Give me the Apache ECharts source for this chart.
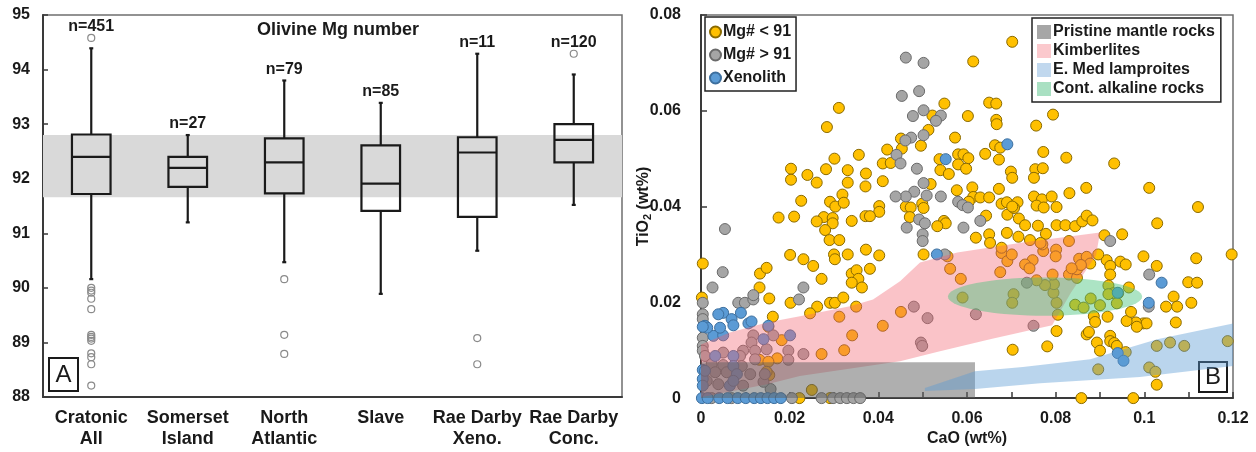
<!DOCTYPE html>
<html>
<head>
<meta charset="utf-8">
<script src="https://cdn.jsdelivr.net/npm/echarts@6/dist/echarts.min.js"></script>
<style>
  html, body { margin: 0; padding: 0; background: #fff; }
  #chart { width: 1256px; height: 452px; }
</style>
</head>
<body>
<div id="chart"></div>
<script>
// ---------- Panel A: olivine Mg number box plots ----------
const categories = ['Cratonic\nAll', 'Somerset\nIsland', 'North\nAtlantic', 'Slave', 'Rae Darby\nXeno.', 'Rae Darby\nConc.'];
const counts = [451, 27, 79, 85, 11, 120];
const whiskerLow = [90.16, 91.20, 90.47, 89.89, 90.68, 91.52];
const q1 = [91.72, 91.85, 91.73, 91.41, 91.30, 92.30];
const median = [92.40, 92.20, 92.30, 91.91, 92.48, 92.71];
const q3 = [92.81, 92.40, 92.74, 92.61, 92.76, 93.00];
const whiskerHigh = [94.39, 92.80, 93.80, 93.39, 94.29, 93.91];
const outliersCratonic = [94.58, 90.00, 89.95, 89.91, 89.80, 89.61, 89.14, 89.10, 89.07, 89.03, 88.80, 88.73, 88.60, 88.21];
const outliersNorthAtlantic = [90.16, 89.14, 88.79];
const outliersRaeXeno = [89.08, 88.60];
const outliersRaeConc = [94.29];
const mantleBand = [91.66, 92.80];
const mgTicks = [88, 89, 90, 91, 92, 93, 94, 95];

// ---------- Panel B: TiO2 vs CaO in olivine ----------
const mgBelow91 = [
  [0.0203,0.0479],[0.0203,0.0456],[0.0175,0.0377],[0.0210,0.0379],
  [0.0702,0.0744],[0.0614,0.0703],[0.0311,0.0606],[0.0284,0.0566],[0.0549,0.0615],[0.0650,0.0617],[0.0666,0.0615],
  [0.0602,0.0589],[0.0522,0.0590],[0.0666,0.0581],[0.0667,0.0572],[0.0513,0.0560],[0.0573,0.0544],[0.0451,0.0542],
  [0.0496,0.0527],[0.0663,0.0528],[0.0675,0.0523],[0.0420,0.0519],[0.0453,0.0521],[0.0356,0.0508],[0.0301,0.0500],
  [0.0410,0.0490],[0.0428,0.0491],[0.0538,0.0499],[0.0580,0.0509],[0.0592,0.0509],[0.0603,0.0501],[0.0641,0.0510],
  [0.0672,0.0498],[0.0580,0.0488],[0.0598,0.0479],[0.0540,0.0476],[0.0559,0.0468],[0.0699,0.0473],[0.0702,0.0460],
  [0.0240,0.0466],[0.0282,0.0478],[0.0331,0.0476],[0.0372,0.0469],[0.0261,0.0450],[0.0331,0.0450],[0.0371,0.0442],
  [0.0410,0.0453],[0.0518,0.0447],[0.0577,0.0434],[0.0612,0.0440],[0.0672,0.0437],[0.0319,0.0425],[0.0226,0.0412],
  [0.0291,0.0410],[0.0303,0.0400],[0.0322,0.0408],[0.0614,0.0420],[0.0630,0.0419],[0.0650,0.0419],[0.0604,0.0410],
  [0.0499,0.0406],[0.0502,0.0397],[0.0462,0.0400],[0.0473,0.0398],[0.0402,0.0401],[0.0402,0.0389],[0.0678,0.0406],
  [0.0690,0.0409],[0.0714,0.0409],[0.0277,0.0378],[0.0297,0.0376],[0.0261,0.0369],[0.0297,0.0365],[0.0340,0.0370],
  [0.0371,0.0380],[0.0381,0.0380],[0.0471,0.0378],[0.0643,0.0381],[0.0691,0.0383],[0.0706,0.0397],[0.0548,0.0370],
  [0.0552,0.0365],[0.0533,0.0359],
  [0.0794,0.0592],[0.0756,0.0569],[0.0772,0.0514],[0.0824,0.0502],[0.0932,0.0490],[0.0754,0.0478],[0.0771,0.0480],
  [0.0751,0.0460],[0.0831,0.0428],[0.0869,0.0439],[0.1011,0.0439],[0.1121,0.0399],[0.0751,0.0421],[0.0769,0.0415],
  [0.0791,0.0421],[0.0702,0.0400],[0.0757,0.0402],[0.0773,0.0398],[0.0802,0.0399],[0.0717,0.0375],[0.0731,0.0361],
  [0.0760,0.0360],[0.0802,0.0361],[0.0822,0.0361],[0.0844,0.0359],[0.0860,0.0369],[0.0870,0.0381],[0.0883,0.0371],
  [0.1029,0.0365],
  [0.0650,0.0342],[0.0652,0.0324],[0.0620,0.0335],[0.0690,0.0345],[0.0716,0.0337],[0.0742,0.0330],[0.0778,0.0343],
  [0.0910,0.0340],[0.0950,0.0342],[0.1197,0.0300],[0.1117,0.0292],[0.0998,0.0296],[0.1028,0.0276],[0.1099,0.0242],
  [0.1119,0.0241],[0.1066,0.0212],[0.1049,0.0191],[0.1074,0.0191],[0.1106,0.0199],[0.1071,0.0158],[0.0998,0.0156],
  [0.1005,0.0156],[0.0981,0.0158],[0.0983,0.0149],[0.0960,0.0161],[0.0970,0.0180],[0.0946,0.0285],[0.0958,0.0279],
  [0.0915,0.0288],[0.0923,0.0276],[0.0923,0.0258],[0.0896,0.0300],[0.0919,0.0235],[0.0930,0.0219],[0.0941,0.0219],
  [0.0965,0.0231],[0.0879,0.0208],[0.0900,0.0194],[0.0938,0.0198],[0.0919,0.0217],[0.0844,0.0195],[0.0863,0.0189],
  [0.0802,0.0199],[0.0805,0.0174],[0.0795,0.0220],[0.0796,0.0238],[0.0776,0.0236],[0.0757,0.0246],[0.0705,0.0217],
  [0.0702,0.0199],[0.0590,0.0210],[0.0675,0.0263],[0.0793,0.0258],[0.0830,0.0258],[0.0848,0.0251],[0.0848,0.0269],
  [0.0853,0.0291],[0.0870,0.0295],[0.0878,0.0281],[0.0857,0.0278],[0.0836,0.0271],[0.0830,0.0328],[0.0801,0.0310],
  [0.0800,0.0296],[0.0772,0.0307],[0.0770,0.0321],[0.0766,0.0324],[0.0748,0.0288],[0.0731,0.0279],[0.0741,0.0271],
  [0.0678,0.0303],[0.0678,0.0314],[0.0691,0.0286],[0.0701,0.0300],[0.0556,0.0296],[0.0562,0.0270],[0.0502,0.0300],
  [0.0586,0.0249],[0.0451,0.0180],[0.0703,0.0101],[0.0781,0.0108],[0.0802,0.0140],[0.0870,0.0133],[0.0875,0.0138],
  [0.0893,0.0116],[0.0900,0.0099],[0.0923,0.0130],[0.0923,0.0119],[0.0932,0.0115],[0.0938,0.0109],[0.0886,0.0171],
  [0.0889,0.0159],[0.0917,0.0170],[0.0958,0.0096],[0.0896,0.0060],[0.1028,0.0109],[0.1058,0.0116],[0.1090,0.0109],
  [0.1188,0.0119],[0.1011,0.0064],[0.1025,0.0055],[0.1028,0.0028],[0.0858,0.0000],[0.0975,0.0000],
  [0.0280,0.0351],[0.0290,0.0330],[0.0312,0.0330],[0.0201,0.0299],[0.0231,0.0290],[0.0253,0.0276],[0.0300,0.0300],
  [0.0302,0.0290],[0.0331,0.0300],[0.0372,0.0310],[0.0402,0.0298],[0.0004,0.0281],[0.0133,0.0260],[0.0148,0.0272],
  [0.0272,0.0249],[0.0340,0.0260],[0.0351,0.0267],[0.0355,0.0249],[0.0340,0.0241],[0.0363,0.0231],[0.0381,0.0270],
  [0.0132,0.0231],[0.0154,0.0208],[0.0202,0.0199],[0.0262,0.0191],[0.0246,0.0177],[0.0291,0.0199],[0.0302,0.0199],
  [0.0321,0.0210],[0.0350,0.0191],[0.0312,0.0170],[0.0410,0.0151],[0.0341,0.0131],[0.0323,0.0100],[0.0272,0.0092],
  [0.0162,0.0170],[0.0152,0.0149],[0.0182,0.0121],[0.0172,0.0083],[0.0132,0.0080],[0.0152,0.0076],[0.0154,0.0048],
  [0.0148,0.0055],[0.0250,0.0017],[0.0002,0.0210],[0.0222,0.0000],[0.0291,0.0000]
];
const mgAbove91 = [
  [0.0462,0.0711],[0.0502,0.0700],[0.0453,0.0631],[0.0492,0.0641],[0.0502,0.0601],[0.0478,0.0589],[0.0541,0.0590],
  [0.0530,0.0579],[0.0502,0.0549],[0.0474,0.0544],[0.0461,0.0538],[0.0441,0.0508],[0.0450,0.0490],[0.0487,0.0479],
  [0.0502,0.0449],[0.0481,0.0431],[0.0462,0.0421],[0.0439,0.0421],[0.0509,0.0423],[0.0541,0.0421],[0.0580,0.0410],
  [0.0590,0.0403],[0.0602,0.0398],[0.0492,0.0373],[0.0505,0.0365],[0.0630,0.0370],[0.0464,0.0356],[0.0592,0.0356],
  [0.0500,0.0342],[0.0500,0.0328],[0.0923,0.0328],[0.1011,0.0258],[0.0735,0.0241],[0.1010,0.0191],[0.0550,0.0300],
  [0.0480,0.0191],[0.0511,0.0167],[0.0620,0.0175],[0.0750,0.0151],[0.0496,0.0116],[0.0499,0.0109],
  [0.0054,0.0353],[0.0049,0.0263],[0.0026,0.0231],[0.0231,0.0231],[0.0221,0.0206],[0.0084,0.0199],[0.0099,0.0199],
  [0.0118,0.0206],[0.0118,0.0215],[0.0004,0.0199],[0.0004,0.0175],[0.0004,0.0165],[0.0004,0.0126],[0.0004,0.0109],
  [0.0004,0.0099],[0.0009,0.0088],[0.0157,0.0019],
  [0.0231,0.0092],[0.0197,0.0099],[0.0197,0.0080],
  [0.0118,0.0131],[0.0163,0.0131],[0.0114,0.0116],[0.0095,0.0099],[0.0122,0.0099],[0.0088,0.0088],[0.0050,0.0095],
  [0.0024,0.0071],[0.0050,0.0069],[0.0092,0.0067],[0.0111,0.0050],[0.0058,0.0054],[0.0032,0.0054],[0.0013,0.0036],
  [0.0039,0.0029],[0.0095,0.0026],[0.0141,0.0034],[0.0144,0.0050],[0.0122,0.0081],[0.0148,0.0102],
  [0.0024,0.0000],[0.0069,0.0000],[0.0205,0.0000],[0.0272,0.0000],[0.0298,0.0000],[0.0314,0.0000],[0.0329,0.0000],
  [0.0344,0.0000],[0.0359,0.0000]
];
const xenolith = [
  [0.0552,0.0499],[0.0691,0.0530],[0.1039,0.0241],[0.1010,0.0199],[0.0940,0.0220],[0.0940,0.0094],[0.0953,0.0078],
  [0.0532,0.0300],
  [0.0050,0.0178],[0.0039,0.0175],[0.0090,0.0178],[0.0069,0.0165],[0.0073,0.0152],[0.0107,0.0156],[0.0114,0.0160],
  [0.0152,0.0151],[0.0009,0.0151],[0.0028,0.0130],[0.0050,0.0131],[0.0043,0.0147],[0.0014,0.0147],[0.0201,0.0131],
  [0.0004,0.0149],[0.0004,0.0059],[0.0004,0.0040],[0.0004,0.0026],
  [0.0141,0.0123],[0.0073,0.0088],[0.0032,0.0088],[0.0073,0.0067],[0.0081,0.0050],[0.0009,0.0057],[0.0065,0.0026],
  [0.0073,0.0036],
  [0.0002,0.0000],[0.0015,0.0000],[0.0041,0.0000],[0.0060,0.0000],[0.0083,0.0000],[0.0101,0.0000],[0.0120,0.0000],
  [0.0135,0.0000],[0.0150,0.0000],[0.0165,0.0000],[0.0180,0.0000]
];

// Reference fields (CaO, TiO2 outlines)
const pristineMantle = [[0, 0], [0.0618, 0], [0.0618, 0.0075], [0, 0.0075]];
const kimberlites = [
  [0, 0.0112], [0.0065, 0.0137], [0.0149, 0.0158], [0.0223, 0.0171], [0.0336, 0.0192], [0.0388, 0.0206],
  [0.0449, 0.0244], [0.0494, 0.0283], [0.0578, 0.0304], [0.0726, 0.0325], [0.0900, 0.0346], [0.0891, 0.0298],
  [0.0835, 0.0221], [0.0792, 0.0152], [0.0652, 0.0123], [0.0539, 0.0098], [0.0449, 0.0077], [0.0223, 0.0046],
  [0.0149, 0.0029], [0.0072, 0.0015], [0, 0.0002]
];
const lamproites = [
  [0.0505, 0.0021], [0.0618, 0.0056], [0.0726, 0.0065], [0.0878, 0.0081], [0.1029, 0.0123], [0.12, 0.0156],
  [0.12, 0.0067], [0.0990, 0.0044], [0.0765, 0.0031], [0.0618, 0.0019], [0.0505, 0.0015]
];
const alkalineCentre = [0.0776, 0.0212];
const alkalineRadii = [0.0219, 0.0040];

const FONT = '"Liberation Sans", Arial, Helvetica, sans-serif';
const INK = '#1a1a1a';
const AXIS = '#3a3a3a';

const chart = echarts.init(document.getElementById('chart'), null, { renderer: 'canvas' });

const outlierPoints = [];
outliersCratonic.forEach(v => outlierPoints.push([0, v]));
outliersNorthAtlantic.forEach(v => outlierPoints.push([2, v]));
outliersRaeXeno.forEach(v => outlierPoints.push([4, v]));
outliersRaeConc.forEach(v => outlierPoints.push([5, v]));

// topmost mark of each group, used to seat the n= label
const topOfGroup = categories.map((c, i) => {
  let top = whiskerHigh[i];
  outlierPoints.forEach(p => { if (p[0] === i && p[1] > top) top = p[1]; });
  return [i, top];
});

function polygonSeries(name, verts, fill) {
  return {
    name, type: 'custom', xAxisIndex: 1, yAxisIndex: 1, z: 5,
    data: [verts[0]],
    itemStyle: { color: fill },
    silent: true,
    renderItem: (params, api) => ({
      type: 'polygon',
      shape: { points: verts.map(v => api.coord(v)) },
      style: { fill: fill }
    })
  };
}

function scatterSeries(name, data, fill, border, z) {
  return {
    name, type: 'scatter', xAxisIndex: 1, yAxisIndex: 1, data,
    symbol: 'circle', symbolSize: 11, clip: false, z,
    itemStyle: { color: fill, borderColor: border, borderWidth: 1, opacity: 1 },
    emphasis: { disabled: true }
  };
}

const option = {
  animation: false,
  backgroundColor: '#fff',
  textStyle: { fontFamily: FONT },
  grid: [
    { left: 43, top: 15, width: 579, height: 382, show: true, borderColor: '#6f6f6f', borderWidth: 1.5, containLabel: false },
    { left: 701, top: 15, width: 532, height: 384, show: true, borderColor: '#6f6f6f', borderWidth: 1.5, containLabel: false }
  ],
  xAxis: [
    {
      gridIndex: 0, type: 'category', data: categories, boundaryGap: true,
      axisLine: { lineStyle: { color: AXIS, width: 2 } },
      axisTick: { inside: true, length: 5, lineStyle: { color: AXIS, width: 1.5 } },
      axisLabel: { interval: 0, margin: 11, fontSize: 18, fontWeight: 'bold', lineHeight: 21, color: INK, fontFamily: FONT }
    },
    {
      gridIndex: 1, type: 'value', min: 0, max: 0.12, interval: 0.01,
      name: 'CaO (wt%)', nameLocation: 'middle', nameGap: 30,
      nameTextStyle: { fontSize: 16, fontWeight: 'bold', color: INK, fontFamily: FONT },
      splitLine: { show: false },
      axisLine: { lineStyle: { color: AXIS, width: 2 } },
      axisTick: { inside: true, length: 6, lineStyle: { color: AXIS, width: 1.5 } },
      axisLabel: {
        margin: 12, fontSize: 16, fontWeight: 'bold', color: INK, fontFamily: FONT, showMinLabel: true, showMaxLabel: true,
        formatter: v => (Math.round(v * 100) % 2 === 0 ? String(+v.toFixed(2)) : '')
      }
    }
  ],
  yAxis: [
    {
      gridIndex: 0, type: 'value', min: mgTicks[0], max: mgTicks[mgTicks.length - 1], interval: 1,
      splitLine: { show: false },
      axisLine: { show: true, lineStyle: { color: AXIS, width: 2 } },
      axisTick: { show: true, inside: true, length: 5, lineStyle: { color: AXIS, width: 1.5 } },
      axisLabel: { margin: 13, fontSize: 16, fontWeight: 'bold', color: INK, fontFamily: FONT }
    },
    {
      gridIndex: 1, type: 'value', min: 0, max: 0.08, interval: 0.02,
      name: 'TiO{sub|2} (wt%)', nameLocation: 'middle', nameGap: 48, nameRotate: 90,
      nameMoveOverlap: false,
      nameTextStyle: {
        fontSize: 16, fontWeight: 'bold', color: INK, fontFamily: FONT,
        rich: { sub: { fontSize: 11, fontWeight: 'bold', color: INK, fontFamily: FONT, padding: [7, 0, 0, 0] } }
      },
      splitLine: { show: false },
      axisLine: { show: true, lineStyle: { color: AXIS, width: 2 } },
      axisTick: { show: true, inside: true, length: 6, lineStyle: { color: AXIS, width: 1.5 } },
      axisLabel: { margin: 20, fontSize: 16, fontWeight: 'bold', color: INK, fontFamily: FONT }
    }
  ],
  legend: [
    {
      data: ['Mg# < 91', 'Mg# > 91', 'Xenolith'],
      orient: 'vertical', left: 705, top: 17,
      padding: [7, 5, 5, 4], itemGap: 7, itemWidth: 11, itemHeight: 11,
      borderColor: '#222', borderWidth: 1.5, backgroundColor: '#fff',
      selectedMode: false,
      textStyle: { fontSize: 16, fontWeight: 'bold', color: INK, fontFamily: FONT, lineHeight: 16, padding: [0, 0, 0, -3] }
    },
    {
      data: [
        { name: 'Pristine mantle rocks', icon: 'rect', itemStyle: { color: '#a6a6a6', borderWidth: 0 } },
        { name: 'Kimberlites', icon: 'rect', itemStyle: { color: '#fbc9cd', borderWidth: 0 } },
        { name: 'E. Med lamproites', icon: 'rect', itemStyle: { color: '#c1d8ee', borderWidth: 0 } },
        { name: 'Cont. alkaline rocks', icon: 'rect', itemStyle: { color: '#a9e0c2', borderWidth: 0 } }
      ],
      orient: 'vertical', left: 1032, top: 18,
      padding: [6, 6, 5, 5], itemGap: 3, itemWidth: 14, itemHeight: 14,
      borderColor: '#222', borderWidth: 1.5, backgroundColor: '#fff',
      selectedMode: false,
      textStyle: { fontSize: 16, fontWeight: 'bold', color: INK, fontFamily: FONT, lineHeight: 16, padding: [0, 0, 0, -3] }
    }
  ],
  graphic: [
    {
      type: 'text', x: 338, y: 30, z: 10,
      style: { text: 'Olivine Mg number', font: 'bold 18px ' + FONT, fill: INK, textAlign: 'center', textVerticalAlign: 'middle' }
    },
    {
      type: 'group', x: 49, y: 358, z: 10,
      children: [
        { type: 'rect', shape: { x: 0, y: 0, width: 29, height: 33 }, style: { fill: '#fff', stroke: INK, lineWidth: 2 } },
        { type: 'text', x: 14.5, y: 17, style: { text: 'A', font: '24px ' + FONT, fill: INK, textAlign: 'center', textVerticalAlign: 'middle' } }
      ]
    },
    {
      type: 'group', x: 1199, y: 362, z: 10,
      children: [
        { type: 'rect', shape: { x: 0, y: 0, width: 28, height: 30 }, style: { fill: '#fff', stroke: INK, lineWidth: 2 } },
        { type: 'text', x: 14, y: 15.5, style: { text: 'B', font: '24px ' + FONT, fill: INK, textAlign: 'center', textVerticalAlign: 'middle' } }
      ]
    }
  ],
  series: [
    // grey band of typical mantle olivine
    {
      type: 'custom', xAxisIndex: 0, yAxisIndex: 0, z: 1, silent: true,
      data: [[0, mantleBand[0], mantleBand[1]]],
      renderItem: (params, api) => {
        const cs = params.coordSys;
        const yHi = api.coord([0, api.value(2)])[1];
        const yLo = api.coord([0, api.value(1)])[1];
        return { type: 'rect', shape: { x: cs.x, y: yHi, width: cs.width, height: yLo - yHi }, style: { fill: '#d9d9d9' } };
      }
    },
    // boxes and whiskers
    {
      type: 'custom', xAxisIndex: 0, yAxisIndex: 0, z: 3, silent: true,
      encode: { x: 0, y: [1, 2, 3, 4, 5] },
      data: categories.map((c, i) => [i, whiskerLow[i], q1[i], median[i], q3[i], whiskerHigh[i]]),
      renderItem: (params, api) => {
        const i = api.value(0);
        const x = api.coord([i, 0])[0];
        const bw = api.size([1, 0])[0] * 0.4;
        const yLo = api.coord([i, api.value(1)])[1];
        const yQ1 = api.coord([i, api.value(2)])[1];
        const yMed = api.coord([i, api.value(3)])[1];
        const yQ3 = api.coord([i, api.value(4)])[1];
        const yHi = api.coord([i, api.value(5)])[1];
        const st = { stroke: INK, lineWidth: 2.2, fill: null };
        return {
          type: 'group',
          children: [
            { type: 'line', shape: { x1: x, y1: yHi, x2: x, y2: yQ3 }, style: st },
            { type: 'line', shape: { x1: x, y1: yQ1, x2: x, y2: yLo }, style: st },
            { type: 'line', shape: { x1: x - 2, y1: yHi, x2: x + 2, y2: yHi }, style: st },
            { type: 'line', shape: { x1: x - 2, y1: yLo, x2: x + 2, y2: yLo }, style: st },
            { type: 'rect', shape: { x: x - bw / 2, y: yQ3, width: bw, height: yQ1 - yQ3 }, style: { stroke: INK, lineWidth: 2.2, fill: 'rgba(0,0,0,0)' } },
            { type: 'line', shape: { x1: x - bw / 2, y1: yMed, x2: x + bw / 2, y2: yMed }, style: st }
          ]
        };
      }
    },
    // outliers
    {
      type: 'scatter', xAxisIndex: 0, yAxisIndex: 0, z: 4, silent: true,
      data: outlierPoints, symbol: 'circle', symbolSize: 7,
      itemStyle: { color: 'rgba(255,255,255,0)', borderColor: '#8a8a8a', borderWidth: 1.2, opacity: 1 }
    },
    // sample counts
    {
      type: 'scatter', xAxisIndex: 0, yAxisIndex: 0, z: 4, silent: true,
      data: topOfGroup, symbolSize: 0,
      itemStyle: { opacity: 1 },
      label: {
        show: true, position: 'top', distance: 3, opacity: 1,
        formatter: p => 'n=' + counts[p.dataIndex],
        fontSize: 16, fontWeight: 'bold', color: INK, fontFamily: FONT, textBorderWidth: 0
      }
    },
    // olivine analyses
    scatterSeries('Mg# < 91', mgBelow91, '#ffc000', '#8a6a00', 2),
    scatterSeries('Mg# > 91', mgAbove91, '#a5a5a5', '#6a6a6a', 3),
    scatterSeries('Xenolith', xenolith, '#5b9bd5', '#3d6f9e', 4),
    // literature fields drawn over the analyses
    polygonSeries('Kimberlites', kimberlites, 'rgba(242,96,110,0.38)'),
    polygonSeries('Pristine mantle rocks', pristineMantle, 'rgba(96,96,96,0.5)'),
    polygonSeries('E. Med lamproites', lamproites, 'rgba(91,155,213,0.42)'),
    {
      name: 'Cont. alkaline rocks', type: 'custom', xAxisIndex: 1, yAxisIndex: 1, z: 5, silent: true,
      data: [[alkalineCentre[0], alkalineCentre[1]]],
      itemStyle: { color: 'rgba(70,195,125,0.45)' },
      renderItem: (params, api) => {
        const c = api.coord([api.value(0), api.value(1)]);
        const e = api.coord([alkalineCentre[0] + alkalineRadii[0], alkalineCentre[1] + alkalineRadii[1]]);
        const rx = Math.abs(e[0] - c[0]);
        const ry = Math.abs(e[1] - c[1]);
        const pts = [];
        for (let k = 0; k < 72; k++) {
          const t = (k / 72) * Math.PI * 2;
          pts.push([c[0] + rx * Math.cos(t), c[1] + ry * Math.sin(t)]);
        }
        return { type: 'polygon', shape: { points: pts }, style: { fill: 'rgba(70,195,125,0.45)' } };
      }
    }
  ]
};

chart.setOption(option);
</script>
</body>
</html>
